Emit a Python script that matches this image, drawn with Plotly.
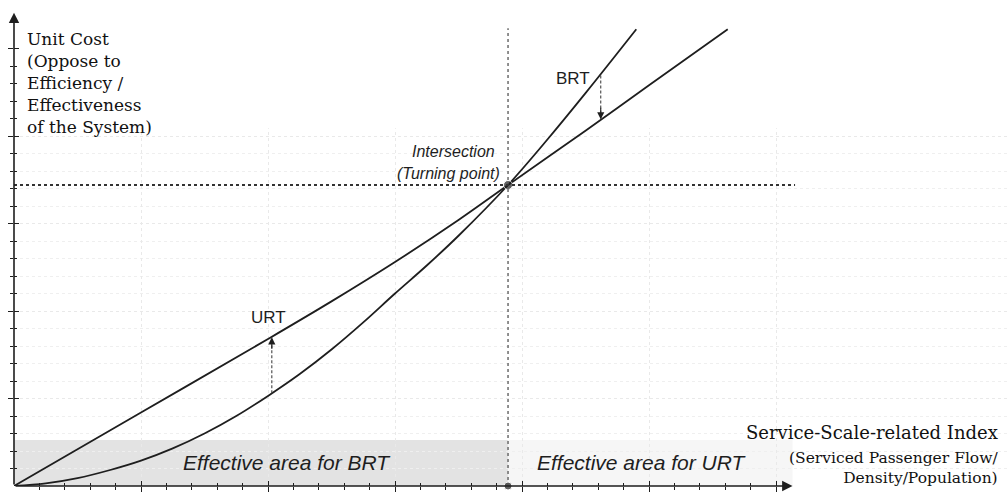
import plotly.graph_objects as go

# Unit cost curves for the two transit modes (service-scale index vs. unit cost)
urt_x = [0, 1, 2, 2.5, 3, 3.5, 3.89, 4.5, 5, 5.62]
urt_y = [0, 0.84, 1.68, 2.11, 2.56, 3.04, 3.44, 4.06, 4.58, 5.22]

brt_x = [0, 0.25, 0.5, 0.75, 1, 1.25, 1.5, 1.75, 2, 2.25, 2.5, 2.75, 3, 3.25, 3.5, 3.89, 4.2, 4.5, 4.9]
brt_y = [0, 0.03, 0.09, 0.18, 0.29, 0.43, 0.60, 0.80, 1.03, 1.28, 1.56, 1.87, 2.20, 2.52, 2.86, 3.44, 3.96, 4.49, 5.22]

# Turning point where both curves meet
cross_x = 3.89
cross_y = 3.44

# Shift arrows: x position, tail value, head value
urt_shift = (2.03, 1.06, 1.70)
brt_shift = (4.62, 4.69, 4.19)

# Axis tick positions
x_major = [1, 2, 3, 4, 5, 6]
x_minor = [i / 5 for i in range(1, 31)]
y_major = [1, 2, 3, 4, 5]
y_minor = [i / 5 for i in range(1, 26)]

# Axis extents (data units)
x_end = 6.13
y_end = 5.41
band_top = 0.526

INK = "#1e1e1e"
SERIF = "DejaVu Serif"
SANS = "Liberation Sans"

fig = go.Figure()

curve_line = dict(color=INK, width=1.8, shape="spline", smoothing=1.0)
fig.add_trace(go.Scatter(x=urt_x, y=urt_y, mode="lines", line=curve_line, hoverinfo="skip", cliponaxis=False))
fig.add_trace(go.Scatter(x=brt_x, y=brt_y, mode="lines", line=curve_line, hoverinfo="skip", cliponaxis=False))

# dashed shafts of the shift arrows
for sx, tail, head in (urt_shift, brt_shift):
    fig.add_trace(go.Scatter(x=[sx, sx], y=[tail, head], mode="lines",
                             line=dict(color="#444", width=1.1, dash="3px,2px"), hoverinfo="skip"))

# turning point markers
fig.add_trace(go.Scatter(x=[cross_x, cross_x], y=[cross_y, 0], mode="markers",
                         marker=dict(color=INK, size=[9, 8]), hoverinfo="skip", cliponaxis=False))

shapes = [
    # effective areas
    dict(type="rect", xref="x", yref="y", x0=0, x1=cross_x, y0=0, y1=band_top,
         fillcolor="#e3e3e3", line=dict(width=0), layer="below"),
    dict(type="rect", xref="x", yref="y", x0=cross_x, x1=x_end, y0=0, y1=band_top,
         fillcolor="#f6f6f6", line=dict(width=0), layer="below"),
    # blank upper area without grid
    dict(type="rect", xref="x", yref="y", x0=0.02, x1=8.2, y0=4.09, y1=6,
         fillcolor="white", line=dict(width=0), layer="between"),
    # guide lines through the turning point
    dict(type="line", xref="x", yref="y", x0=cross_x, x1=cross_x, y0=0, y1=5.23,
         line=dict(color="#555", width=1.3, dash="dot")),
    dict(type="line", xref="x", yref="y", x0=0, x1=6.15, y0=cross_y, y1=cross_y,
         line=dict(color="#333", width=2, dash="dot")),
]

annotations = [
    # axes with arrowheads
    dict(x=x_end, y=0, ax=0, ay=0, xref="x", yref="y", axref="x", ayref="y", text="",
         showarrow=True, arrowhead=2, arrowsize=1.3, arrowwidth=1.6, arrowcolor=INK, standoff=0),
    dict(x=0, y=y_end, ax=0, ay=0, xref="x", yref="y", axref="x", ayref="y", text="",
         showarrow=True, arrowhead=2, arrowsize=1.3, arrowwidth=1.6, arrowcolor=INK, standoff=0),
    # arrow heads of the shift arrows
    dict(x=urt_shift[0], y=urt_shift[2], ax=0, ay=13, xref="x", yref="y", text="",
         showarrow=True, arrowhead=2, arrowsize=1.3, arrowwidth=1.1, arrowcolor=INK, standoff=0),
    dict(x=brt_shift[0], y=brt_shift[2], ax=0, ay=-13, xref="x", yref="y", text="",
         showarrow=True, arrowhead=2, arrowsize=1.3, arrowwidth=1.1, arrowcolor=INK, standoff=0),
    # curve labels
    dict(x=2.0, y=1.93, xref="x", yref="y", text="URT", showarrow=False,
         font=dict(family=SANS, size=17, color=INK)),
    dict(x=4.40, y=4.66, xref="x", yref="y", text="BRT", showarrow=False,
         font=dict(family=SANS, size=17, color=INK)),
    dict(x=3.80, y=3.82, xref="x", yref="y", text="<i>Intersection</i>", showarrow=False,
         xanchor="right", font=dict(family=SANS, size=16, color=INK)),
    dict(x=3.84, y=3.57, xref="x", yref="y", text="<i>(Turning point)</i>", showarrow=False,
         xanchor="right", font=dict(family=SANS, size=16, color=INK)),
    # effective area labels
    dict(x=2.15, y=0.263, xref="x", yref="y", text="<i>Effective area for BRT</i>", showarrow=False,
         font=dict(family=SANS, size=21, color=INK)),
    dict(x=4.945, y=0.263, xref="x", yref="y", text="<i>Effective area for URT</i>", showarrow=False,
         font=dict(family=SANS, size=21, color=INK)),
    # axis titles
    dict(x=0.09, y=5.25, xref="x", yref="y", xanchor="left", yanchor="top", align="left",
         text="Unit Cost<br>(Oppose to<br>Efficiency /<br>Effectiveness<br>of the System)",
         showarrow=False, font=dict(family=SERIF, size=17, color="#111")),
    dict(x=7.76, y=0.617, xref="x", yref="y", xanchor="right", text="Service-Scale-related Index",
         showarrow=False, font=dict(family=SERIF, size=18, color="#111")),
    dict(x=7.76, y=0.205, xref="x", yref="y", xanchor="right", align="right",
         text="(Serviced Passenger Flow/<br>Density/Population)",
         showarrow=False, font=dict(family=SERIF, size=15.5, color="#111")),
]

axis_common = dict(showline=False, zeroline=False, showticklabels=False, ticks="outside",
                   tickcolor=INK, tickwidth=1.2)

fig.update_layout(
    width=1007, height=492,
    margin=dict(l=14, r=0, t=0, b=6),
    paper_bgcolor="white", plot_bgcolor="rgba(0,0,0,0)",
    showlegend=False,
    shapes=shapes, annotations=annotations,
    xaxis=dict(range=[0, 993 / 127], tickvals=x_major, ticklen=5, **axis_common,
               showgrid=True, gridcolor="#e9e9e9", griddash="dot", gridwidth=1,
               minor=dict(tickvals=x_minor, ticks="outside", ticklen=3, tickcolor=INK, showgrid=False)),
    yaxis=dict(range=[0, 486 / 87.5], tickvals=y_major, ticklen=5, **axis_common,
               showgrid=True, gridcolor="#e9e9e9", griddash="dot", gridwidth=1,
               minor=dict(tickvals=y_minor, ticks="outside", ticklen=3, tickcolor=INK,
                          showgrid=True, gridcolor="#efefef", griddash="dot")),
    xaxis2=dict(overlaying="x", matches="x", anchor="y", side="bottom", tickvals=x_major,
                ticklen=5, showgrid=False, showline=False, zeroline=False, showticklabels=False,
                ticks="inside", tickcolor=INK, tickwidth=1.2,
                minor=dict(tickvals=x_minor, ticks="inside", ticklen=3, tickcolor=INK)),
    yaxis2=dict(overlaying="y", matches="y", anchor="x", side="left", tickvals=y_major,
                ticklen=5, showgrid=False, showline=False, zeroline=False, showticklabels=False,
                ticks="inside", tickcolor=INK, tickwidth=1.2,
                minor=dict(tickvals=y_minor, ticks="inside", ticklen=3, tickcolor=INK)),
)

# invisible trace so the overlay axes are drawn
fig.add_trace(go.Scatter(x=[0], y=[0], xaxis="x2", yaxis="y2", mode="markers",
                         marker=dict(opacity=0), hoverinfo="skip"))

fig.write_html("out.html")
